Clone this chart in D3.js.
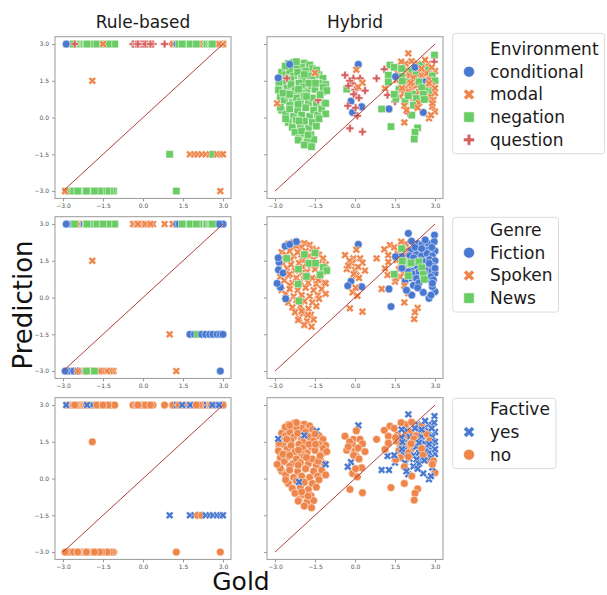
<!DOCTYPE html>
<html lang="en">
<head>
<meta charset="utf-8">
<title>Rule-based vs Hybrid predictions</title>
<script src="https://cdn.jsdelivr.net/npm/d3@7"></script>
<style>
  body { margin: 0; background: #fff; }
  svg { font-family: "DejaVu Sans", sans-serif; }
</style>
</head>
<body>
<script>
// category levels
var environments = ["conditional", "modal", "negation", "question"];
var genres = ["Fiction", "Spoken", "News"];
var factives = ["yes", "no"];
var tickValues = [-3.0, -1.5, 0.0, 1.5, 3.0];
var columnTitles = ["Rule-based", "Hybrid"];
var diagonal = [-3, 3];

// rows: [gold, rule-based prediction, hybrid prediction, environment, genre, factive]
// (environment/genre/factive are indexes into the level arrays above)
var leftGroup = [
  [-1.90, 1.5, 0.90, 1, 1, 1],
  [-2.50, 3, 2.20, 2, 1, 1], [-2.30, -3, 2.25, 2, 1, 1], [-2.10, 3, 2.20, 2, 1, 1],
  [-1.90, -3, 2.22, 2, 1, 1], [-1.70, 3, 2.15, 2, 1, 1], [-2.40, -3, 2.05, 2, 1, 1],
  [-2.00, 3, 2.05, 2, 1, 1], [-1.60, -3, 2.00, 2, 1, 1], [-2.20, 3, 2.10, 2, 1, 1],
  [-2.75, -3, 1.85, 2, 1, 1], [-2.60, 3, 1.75, 2, 1, 1], [-2.45, -3, 1.90, 2, 1, 1],
  [-2.30, 3, 1.70, 2, 1, 1], [-2.15, -3, 1.85, 2, 1, 1], [-2.00, 3, 1.60, 2, 1, 1],
  [-1.85, -3, 1.90, 2, 1, 1], [-1.70, 3, 1.70, 2, 1, 1], [-1.55, -3, 1.55, 2, 1, 1],
  [-1.35, 3, 1.75, 2, 1, 1], [-1.20, -3, 1.60, 2, 1, 1], [-2.65, 3, 1.55, 2, 1, 1],
  [-2.40, -3, 1.55, 2, 1, 1], [-1.95, 3, 1.50, 2, 1, 1], [-2.85, -3, 1.30, 2, 1, 1],
  [-2.70, 3, 1.40, 2, 1, 1], [-2.55, -3, 1.20, 2, 1, 1], [-2.40, 3, 1.35, 2, 1, 1],
  [-2.25, -3, 1.10, 2, 1, 1], [-2.10, 3, 1.40, 2, 1, 1], [-1.95, -3, 1.25, 2, 1, 1],
  [-1.80, 3, 1.05, 2, 1, 1], [-1.65, -3, 1.30, 2, 1, 1], [-1.50, 3, 1.15, 2, 1, 1],
  [-1.35, -3, 1.40, 2, 1, 1], [-1.20, 3, 1.05, 2, 1, 1], [-1.10, -3, 1.35, 2, 1, 1],
  [-2.60, 3, 1.00, 2, 1, 1], [-2.00, -3, 1.00, 2, 1, 1], [-2.80, 3, 0.85, 2, 1, 1],
  [-2.65, -3, 0.70, 2, 1, 1], [-2.50, 3, 0.90, 2, 1, 1], [-2.35, -3, 0.60, 2, 1, 1],
  [-2.20, 3, 0.80, 2, 1, 1], [-2.05, -3, 0.65, 2, 1, 1], [-1.90, 3, 0.90, 2, 1, 1],
  [-1.75, -3, 0.60, 2, 1, 1], [-1.60, 3, 0.80, 2, 1, 1], [-1.45, -3, 0.55, 2, 1, 1],
  [-1.30, 3, 0.75, 2, 1, 1], [-1.15, -3, 0.60, 2, 1, 1], [-2.45, 3, 0.50, 2, 1, 1],
  [-2.75, -3, 0.30, 2, 1, 1], [-2.60, 3, 0.15, 2, 1, 1], [-2.45, -3, 0.35, 2, 1, 1],
  [-2.30, 3, 0.05, 2, 1, 1], [-2.15, -3, 0.30, 2, 1, 1], [-2.00, 3, 0.10, 2, 1, 1],
  [-1.85, -3, 0.40, 2, 1, 1], [-1.70, 3, 0.05, 2, 1, 1], [-1.55, -3, 0.30, 2, 1, 1],
  [-1.40, 3, 0.10, 2, 1, 1], [-1.25, -3, 0.35, 2, 1, 1], [-1.10, 3, 0.15, 2, 1, 1],
  [-2.50, -3, -0.20, 2, 1, 1], [-2.35, 3, -0.40, 2, 1, 1], [-2.20, -3, -0.10, 2, 1, 1],
  [-2.05, 3, -0.35, 2, 1, 1], [-1.90, -3, -0.15, 2, 1, 1], [-1.75, 3, -0.45, 2, 1, 1],
  [-1.60, -3, -0.20, 2, 1, 1], [-1.45, 3, -0.35, 2, 1, 1], [-1.35, -3, -0.05, 2, 1, 1],
  [-2.25, 3, -0.60, 2, 1, 1], [-2.10, -3, -0.85, 2, 1, 1], [-1.95, 3, -0.65, 2, 1, 1],
  [-1.80, -3, -0.95, 2, 1, 1], [-1.65, 3, -0.70, 2, 1, 1], [-1.55, -3, -0.90, 2, 1, 1],
  [-2.00, 3, -0.55, 2, 1, 1], [-2.13, -3, -0.92, 2, 1, 1], [-1.90, 3, -1.12, 2, 1, 1],
  [-1.63, -3, -1.19, 2, 1, 1], [-1.76, 3, -0.71, 2, 1, 1],
  [-2.87, -3, 1.13, 2, 0, 1], [-2.85, 3, 1.45, 2, 0, 1], [-2.80, -3, 0.42, 2, 0, 1],
  [-2.70, 3, 1.00, 2, 0, 1], [-2.62, 3, 2.10, 2, 0, 1], [-2.20, 3, 2.28, 2, 0, 1],
  [-2.60, -3, -0.05, 2, 0, 1],
  [-2.45, -3, 2.17, 0, 0, 1], [-1.38, 3, 0.71, 3, 1, 1], [-1.44, 3, 1.94, 2, 1, 0],
  [-1.10, 3, 0.58, 2, 1, 0], [-2.88, 3, 1.62, 0, 0, 0], [-2.92, -3, 0.58, 1, 0, 1],
  [-2.45, -3, 0.95, 2, 1, 1],
  [-2.56, 3, 1.60, 3, 2, 1], [-1.90, 3, 1.76, 2, 2, 0],
  [-1.73, 3, 1.40, 2, 2, 1], [-1.48, 3, 1.40, 2, 2, 1], [-2.12, -3, 1.16, 2, 2, 1],
  [-1.82, -3, 0.86, 2, 2, 1], [-1.19, 3, 1.23, 2, 2, 1], [-1.06, 3, 1.10, 2, 2, 1],
  [-1.31, 3, 0.93, 2, 2, 1], [-2.13, 3, 0.55, 2, 2, 1], [-2.10, 3, -0.14, 2, 2, 0],
  [-1.50, 3, 1.82, 1, 2, 1]
];

var middleGroup = [
  [0.125, 3, 2.17, 0, 0, 0], [-0.15, 3, 0.67, 0, 0, 0], [-0.27, 3, 0.48, 3, 0, 0],
  [0.25, 3, 0.44, 0, 0, 1], [-0.09, 3, 0.21, 0, 1, 1], [-0.31, 3, 1.16, 2, 1, 1],
  [-0.375, 3, 1.73, 3, 1, 1], [0.05, 3, 1.95, 1, 1, 1], [-0.06, 3, 1.60, 3, 1, 1],
  [0.19, 3, 1.60, 3, 1, 1], [0.28, 3, 1.42, 1, 1, 1], [-0.10, 3, 1.40, 3, 1, 1],
  [0.00, 3, 1.13, 3, 1, 1], [0.375, 3, 1.10, 3, 1, 1], [0.05, 3, 0.90, 3, 1, 1],
  [0.12, 3, 1.25, 1, 1, 1], [-0.05, 3, 0.95, 3, 1, 1], [0.15, 3, 0.80, 3, 1, 1],
  [-0.20, 3, 1.50, 3, 1, 1], [0.02, 3, 0.40, 3, 1, 1], [-0.25, 3, 1.30, 3, 1, 1],
  [0.09, 3, 0.07, 3, 1, 1], [-0.19, 3, -0.44, 3, 1, 1], [0.28, 3, -0.58, 3, 1, 1]
];

var rightGroup = [
  [1.90, 3, 2.20, 1, 1, 1], [2.35, 3, 2.20, 1, 0, 0], [2.50, 3, 2.15, 2, 0, 1],
  [2.75, 3, 2.20, 1, 0, 0], [1.95, 3, 1.95, 1, 1, 0], [2.10, 3, 1.90, 2, 0, 1],
  [2.40, 3, 1.95, 1, 0, 0], [2.60, 3, 1.90, 1, 0, 1], [2.75, 3, 1.95, 2, 0, 0],
  [3.00, 3, 1.90, 1, 0, 0], [1.60, 3, 1.80, 1, 1, 1], [1.90, 3, 1.75, 1, 1, 1],
  [2.05, 3, 1.70, 1, 0, 0], [2.30, 3, 1.75, 2, 0, 1], [2.50, 3, 1.70, 1, 0, 0],
  [2.70, 3, 1.80, 1, 0, 1], [2.90, 3, 1.70, 2, 0, 0], [1.85, 3, 1.50, 1, 1, 1],
  [2.00, 3, 1.45, 2, 1, 0], [2.20, 3, 1.55, 1, 0, 1], [2.45, 3, 1.50, 1, 0, 0],
  [2.60, 3, 1.45, 0, 0, 0], [2.80, 3, 1.55, 1, 0, 1], [3.00, 3, 1.50, 2, 0, 0],
  [1.70, 3, 1.35, 1, 1, 1], [1.90, 3, 1.25, 1, 1, 0], [2.10, 3, 1.20, 1, 0, 1],
  [2.30, 3, 1.30, 1, 0, 0], [2.55, 3, 1.25, 2, 0, 1], [2.70, 3, 1.20, 1, 0, 0],
  [2.90, 3, 1.30, 1, 0, 0], [1.65, 3, 1.15, 2, 1, 1], [1.80, 3, 1.00, 1, 1, 0],
  [2.00, 3, 1.05, 1, 0, 1], [2.20, 3, 0.95, 2, 0, 0], [2.40, 3, 1.05, 1, 0, 0],
  [2.60, 3, 0.95, 1, 0, 1], [2.80, 3, 1.05, 2, 0, 0], [3.00, 3, 1.00, 1, 0, 0],
  [2.05, 3, 0.80, 1, 0, 0], [2.50, 3, 0.80, 1, 0, 0], [2.70, 3, 0.75, 2, 0, 1],
  [2.85, 3, 0.85, 1, 0, 0], [1.70, 3, 0.85, 1, 1, 1],
  [2.00, 3, 2.62, 1, 0, 0], [2.98, 3, 2.55, 2, 0, 0], [2.97, 3, 2.28, 3, 0, 0],
  [1.73, 3, 2.28, 1, 1, 1], [2.12, 3, 2.30, 1, 0, 1], [2.63, 3, 2.35, 1, 0, 0],
  [1.31, 3, 2.14, 2, 1, 1], [1.47, 3, 2.05, 2, 1, 1], [1.10, 3, 1.97, 3, 1, 1],
  [2.25, 3, 2.05, 0, 0, 0], [2.88, 3, 2.05, 1, 0, 0], [1.25, 3, 1.73, 2, 1, 1],
  [1.75, 3, 1.67, 2, 0, 0], [1.56, 3, 1.53, 1, 1, 1], [0.81, 3, 1.60, 3, 1, 1],
  [1.52, 3, 1.67, 0, 0, 1], [1.22, 3, 0.92, 3, 1, 0], [1.125, 3, 1.19, 1, 1, 1],
  [1.50, 3, 0.65, 3, 1, 0], [1.53, 3, 0.78, 2, 1, 1], [1.875, 3, 0.65, 2, 0, 0],
  [2.31, 3, 0.78, 2, 0, 0], [2.94, 3, 0.72, 1, 0, 1], [2.19, 3, 0.50, 2, 0, 0],
  [1.275, 3, 0.35, 0, 0, 0], [1.85, 3, 0.48, 1, 1, 1], [2.00, 3, 0.17, 3, 1, 0],
  [2.56, 3, 0.21, 0, 0, 0], [2.13, 3, 0.10, 2, 0, 1], [1.85, 3, -0.20, 1, 1, 1],
  [2.775, 3, -0.03, 1, 0, 0], [3.00, 3, 0.24, 1, 0, 1], [1.35, 3, -0.37, 2, 0, 1],
  [2.85, 3, 0.10, 1, 0, 0], [2.40, 3, 0.60, 1, 0, 0],
  [2.35, 3, -0.42, 2, 1, 1], [2.25, 3, -0.60, 2, 1, 1], [2.22, 3, -0.88, 2, 1, 1],
  [1.00, -1.5, 0.35, 2, 1, 0], [1.76, -1.5, 1.20, 1, 0, 0], [1.93, -1.5, 0.30, 1, 0, 0],
  [2.05, -1.5, 1.38, 1, 2, 1], [2.20, -1.5, 1.62, 1, 0, 1], [2.35, -1.5, 0.40, 1, 0, 0],
  [2.50, -1.5, 2.00, 1, 0, 0], [2.62, -1.5, 1.10, 2, 0, 0], [2.78, -1.5, 1.40, 1, 0, 0],
  [2.90, -1.5, 0.45, 1, 0, 0], [3.00, -1.5, 1.20, 1, 0, 0],
  [1.25, -3, 1.45, 2, 1, 1], [2.90, -3, 0.58, 1, 0, 1],
  [1.75, 3, 2.00, 2, 2, 0], [1.47, 3, 0.95, 2, 2, 0], [1.775, 3, 1.49, 2, 2, 0],
  [2.10, 3, 1.42, 1, 2, 1], [2.40, 3, 1.46, 2, 2, 0], [2.50, 3, 1.22, 2, 2, 1],
  [2.00, 3, 0.89, 2, 2, 1], [2.56, 3, 0.95, 2, 2, 1], [2.60, 3, 0.74, 2, 2, 0]
];

var points = leftGroup.concat(middleGroup, rightGroup).map(function (r) {
  return { gold: r[0], rule: r[1], hybrid: r[2], env: r[3], genre: r[4], fact: r[5] };
});

// one row of panels per grouping variable
var facets = [
  { title: "Environment", levels: environments, key: "env",
    colors: ["#4878d0", "#ee854a", "#6acc64", "#d65f5f"], shapes: ["o", "X", "s", "P"] },
  { title: "Genre", levels: genres, key: "genre",
    colors: ["#4878d0", "#ee854a", "#6acc64"], shapes: ["o", "X", "s"] },
  { title: "Factive", levels: factives, key: "fact",
    colors: ["#4878d0", "#ee854a"], shapes: ["X", "o"] }
];

// layout
var width = 607, height = 595;
var panelW = 176, panelH = 161.7;
var colLeft = [55, 267];
var rowTop = [36.7, 216.7, 397.7];
var legendTop = [33.3, 217.3, 398.3];
var legendFirst = [49, 230, 409.3];
var legendStep = 22.7;
var markerSize = 7.8;

var svg = d3.select("body").append("svg")
  .attr("width", width).attr("height", height);

// matplotlib-like filled marker outlines (unit size)
var plusPts = [[-1,-3],[1,-3],[1,-1],[3,-1],[3,1],[1,1],[1,3],[-1,3],[-1,1],[-3,1],[-3,-1],[-1,-1]]
  .map(function (p) { return [p[0] / 6, p[1] / 6]; });
var xPts = [[-1,-2],[0,-1],[1,-2],[2,-1],[1,0],[2,1],[1,2],[0,1],[-1,2],[-2,1],[-1,0],[-2,-1]]
  .map(function (p) { return [p[0] / 4, p[1] / 4]; });

function markerPath(shape, s) {
  var h = s / 2;
  if (shape === "o") return "M" + h + ",0A" + h + "," + h + " 0 1,1 " + (-h) + ",0A" + h + "," + h + " 0 1,1 " + h + ",0Z";
  if (shape === "s") { h = h * 0.95; return "M" + (-h) + "," + (-h) + "H" + h + "V" + h + "H" + (-h) + "Z"; }
  var pts = shape === "P" ? plusPts : xPts;
  return "M" + pts.map(function (p) { return (p[0] * s) + "," + (p[1] * s); }).join("L") + "Z";
}

// column titles
columnTitles.forEach(function (t, c) {
  svg.append("text")
    .attr("x", colLeft[c] + panelW / 2)
    .attr("y", 28)
    .attr("text-anchor", "middle")
    .style("font-size", "17px")
    .style("fill", "#1a1a1a")
    .text(t);
});

facets.forEach(function (f, r) {
  ["rule", "hybrid"].forEach(function (predKey, c) {
    var x = d3.scaleLinear().domain([-3.3, 3.3]).range([colLeft[c], colLeft[c] + panelW]);
    var y = d3.scaleLinear().domain([-3.3, 3.3]).range([rowTop[r] + panelH, rowTop[r]]);
    var g = svg.append("g");

    // points
    g.selectAll("path.pt")
      .data(points)
      .enter()
      .append("path")
      .attr("class", "pt")
      .attr("transform", function (d) { return "translate(" + x(d.gold) + "," + y(d[predKey]) + ")"; })
      .attr("d", function (d) { return markerPath(f.shapes[d[f.key]], markerSize); })
      .attr("fill", function (d) { return f.colors[d[f.key]]; })
      .attr("stroke", "#fff")
      .attr("stroke-width", 0.5);

    // reference diagonal
    g.append("line")
      .attr("x1", x(diagonal[0])).attr("y1", y(diagonal[0]))
      .attr("x2", x(diagonal[1])).attr("y2", y(diagonal[1]))
      .attr("stroke", "#b0403c")
      .attr("stroke-width", 1);

    // frame
    g.append("rect")
      .attr("x", colLeft[c]).attr("y", rowTop[r])
      .attr("width", panelW).attr("height", panelH)
      .attr("fill", "none")
      .attr("stroke", "#999")
      .attr("stroke-width", 1);

    // axes
    var xAxis = d3.axisBottom(x).tickValues(tickValues).tickFormat(d3.format(".1f"))
      .tickSize(3).tickPadding(2);
    var gx = g.append("g")
      .attr("transform", "translate(0," + (rowTop[r] + panelH) + ")")
      .call(xAxis);

    var yAxis = d3.axisLeft(y).tickValues(tickValues)
      .tickFormat(c === 0 ? d3.format(".1f") : function () { return ""; })
      .tickSize(3).tickPadding(3);
    var gy = g.append("g")
      .attr("transform", "translate(" + colLeft[c] + ",0)")
      .call(yAxis);

    [gx, gy].forEach(function (ax) {
      ax.select(".domain").remove();
      ax.selectAll(".tick line").attr("stroke", "#999");
      ax.selectAll(".tick text")
        .style("font-size", "6px")
        .style("font-family", "DejaVu Sans, sans-serif")
        .attr("fill", "#555");
    });
  });

  // legend
  var lg = svg.append("g");
  var labels = [f.title].concat(f.levels);
  var box = lg.append("rect")
    .attr("x", 452.7)
    .attr("y", legendTop[r])
    .attr("rx", 3).attr("ry", 3)
    .attr("fill", "#fff")
    .attr("stroke", "#dcdcdc")
    .attr("stroke-width", 1);

  var maxEnd = 0;
  labels.forEach(function (lab, i) {
    var cy = legendFirst[r] + i * legendStep;
    var t = lg.append("text")
      .attr("x", 490)
      .attr("y", cy)
      .attr("dominant-baseline", "central")
      .style("font-size", "17px")
      .style("fill", "#1a1a1a")
      .text(lab);
    maxEnd = Math.max(maxEnd, 490 + t.node().getComputedTextLength());
    if (i > 0) {
      lg.append("path")
        .attr("transform", "translate(469," + cy + ")")
        .attr("d", markerPath(f.shapes[i - 1], 11))
        .attr("fill", f.colors[i - 1])
        .attr("stroke", "#fff")
        .attr("stroke-width", 0.6);
    }
  });
  box.attr("width", maxEnd + 6 - 452.7)
    .attr("height", legendFirst[r] + (labels.length - 1) * legendStep + 14 - legendTop[r]);
});

// shared axis labels
svg.append("text")
  .attr("transform", "translate(32,305) rotate(-90)")
  .attr("text-anchor", "middle")
  .style("font-size", "26px")
  .style("fill", "#111")
  .text("Prediction");

svg.append("text")
  .attr("x", 241)
  .attr("y", 590)
  .attr("text-anchor", "middle")
  .style("font-size", "25px")
  .style("fill", "#111")
  .text("Gold");
</script>
</body>
</html>
